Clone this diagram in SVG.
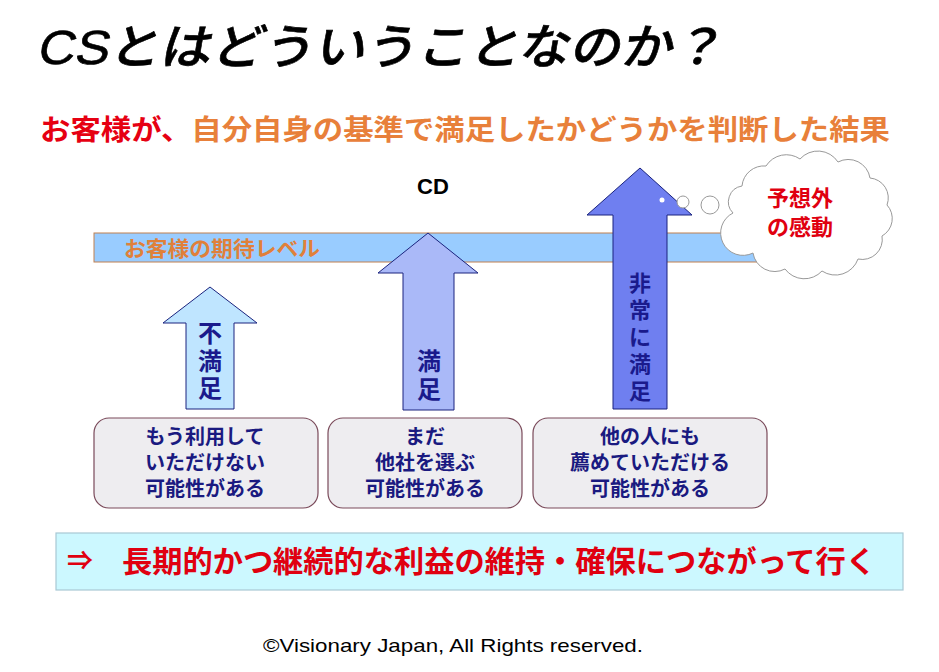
<svg xmlns="http://www.w3.org/2000/svg" width="939" height="672" viewBox="0 0 939 672">
<style>
.jp{font-family:"Liberation Sans","Noto Sans CJK JP",sans-serif;font-weight:bold}
.arr{stroke:#1a237e;stroke-width:1}
.vt{fill:#1a1a8c;font-size:24px;text-anchor:middle;dominant-baseline:central}
.bx{fill:#eeedf0;stroke:#7a4a5a;stroke-width:1.2}
.bt{fill:#1a1a80;font-size:20px;text-anchor:middle;dominant-baseline:central}
</style>
<rect width="939" height="672" fill="#ffffff"/>
<g id="title">
<text transform="translate(36,64) skewX(-12)" x="0" y="0" font-family="'Liberation Sans','Noto Sans CJK JP',sans-serif" font-weight="500" font-size="48" fill="#000" stroke="#000" stroke-width="0.6" textLength="687" lengthAdjust="spacingAndGlyphs">CSとはどういうことなのか？</text>
</g>
<g id="subtitle">
<text class="jp" x="40" y="130" font-size="28" dominant-baseline="central" textLength="850" lengthAdjust="spacingAndGlyphs"><tspan fill="#e60012">お客様が、</tspan><tspan fill="#e8803a">自分自身の基準で満足したかどうかを判断した結果</tspan></text>
</g>
<g id="cd">
<text class="jp" x="433" y="186" font-size="22" text-anchor="middle" dominant-baseline="central" fill="#000">CD</text>
</g>
<g id="expectation">
<rect x="94" y="233" width="700" height="29" fill="#99ccff" stroke="#c08050" stroke-width="1"/>
<text class="jp" x="124" y="248" font-size="21" fill="#e0803a" dominant-baseline="central" textLength="196" lengthAdjust="spacingAndGlyphs">お客様の期待レベル</text>
</g>
<g id="arrow-fuman">
<polygon class="arr" points="210,287 257,323 234,323 234,409 186,409 186,323 163,323" fill="#bfe5ff"/>
<text class="jp vt"><tspan x="210" y="333">不</tspan><tspan x="210" y="361">満</tspan><tspan x="210" y="388">足</tspan></text>
</g>
<g id="arrow-manzoku">
<polygon class="arr" points="428,233 478,273 454,273 454,410 403,410 403,273 378,273" fill="#aab9f8"/>
<text class="jp vt"><tspan x="429" y="361">満</tspan><tspan x="429" y="389">足</tspan></text>
</g>
<g id="arrow-hijou">
<polygon class="arr" points="640,168 692,215 667,215 667,409 613,409 613,215 587,215" fill="#6f7ff0"/>
<text class="jp vt" style="font-size:22px"><tspan x="640" y="283">非</tspan><tspan x="640" y="310">常</tspan><tspan x="640" y="337">に</tspan><tspan x="640" y="364">満</tspan><tspan x="640" y="391">足</tspan></text>
</g>
<g id="thought">
<circle cx="662" cy="200" r="2.5" fill="#fff"/>
<circle cx="683" cy="202" r="6" fill="#fff" stroke="#999" stroke-width="1"/>
<circle cx="710" cy="205" r="9" fill="#fff" stroke="#999" stroke-width="1"/>
<path d="M733,213 A16,16 0 0 1 742,186 A22,22 0 0 1 766,166 A24,24 0 0 1 800,159 A24,24 0 0 1 838,162 A22,22 0 0 1 870,178 A20,20 0 0 1 887,205 A20,20 0 0 1 882,236 A20,20 0 0 1 858,259 A24,24 0 0 1 822,271 A24,24 0 0 1 785,269 A22,22 0 0 1 753,253 A20,20 0 0 1 733,213 Z" fill="#fff" stroke="#999" stroke-width="1"/>
<text class="jp" font-size="22" fill="#e00010" text-anchor="middle" dominant-baseline="central"><tspan x="800" y="198">予想外</tspan><tspan x="800" y="227">の感動</tspan></text>
</g>
<g id="box1">
<rect class="bx" x="94" y="418" width="224" height="90" rx="15"/>
<text class="jp bt"><tspan x="205" y="437">もう利用して</tspan><tspan x="205" y="463">いただけない</tspan><tspan x="205" y="489">可能性がある</tspan></text>
</g>
<g id="box2">
<rect class="bx" x="328" y="418" width="194" height="90" rx="15"/>
<text class="jp bt"><tspan x="425" y="437">まだ</tspan><tspan x="425" y="463">他社を選ぶ</tspan><tspan x="425" y="489">可能性がある</tspan></text>
</g>
<g id="box3">
<rect class="bx" x="533" y="418" width="234" height="90" rx="15"/>
<text class="jp bt"><tspan x="650" y="437">他の人にも</tspan><tspan x="650" y="463">薦めていただける</tspan><tspan x="650" y="489">可能性がある</tspan></text>
</g>
<g id="banner">
<rect x="56" y="533" width="847" height="57" fill="#ccf8ff" stroke="#a8c8d4" stroke-width="1.2"/>
<text class="jp" x="67" y="561" font-size="26" fill="#e00010" dominant-baseline="central">⇒</text>
<text class="jp" x="122" y="561" font-size="30" fill="#e00010" dominant-baseline="central" textLength="754" lengthAdjust="spacingAndGlyphs">長期的かつ継続的な利益の維持・確保につながって行く</text>
</g>
<g id="copyright">
<text x="263" y="652" font-family="'Liberation Sans',sans-serif" font-size="19" fill="#000" textLength="380" lengthAdjust="spacingAndGlyphs">©Visionary Japan, All Rights reserved.</text>
</g>
</svg>
